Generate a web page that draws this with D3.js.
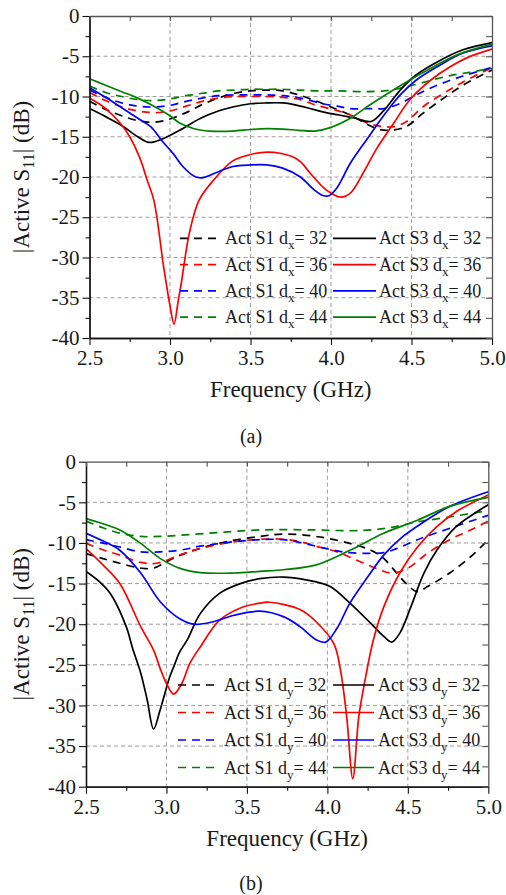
<!DOCTYPE html>
<html>
<head>
<meta charset="utf-8">
<script src="https://cdn.jsdelivr.net/npm/d3@7"></script>
<style>
body { margin: 0; background: #fff; }
svg text { font-family: "Liberation Serif", "Times New Roman", serif; fill: #1a1a1a; }
</style>
</head>
<body>
<svg id="chart" width="506" height="895"></svg>
<script>
// ---- panel (a): dx sweep, [GHz, dB] ----
var a_S1_32 = [[2.5,-10.6],[2.6,-11.6],[2.7,-12.4],[2.8,-13.0],[2.9,-13.2],[3.0,-12.8],[3.1,-12.0],[3.2,-11.0],[3.3,-10.2],[3.4,-9.6],[3.5,-9.3],[3.6,-9.2],[3.7,-9.3],[3.8,-9.8],[3.9,-10.5],[4.0,-11.3],[4.12,-12.3],[4.22,-13.4],[4.3,-14.1],[4.37,-14.2],[4.47,-13.7],[4.57,-12.1],[4.7,-10.2],[4.82,-8.6],[5.0,-6.7]];
var a_S1_36 = [[2.5,-9.5],[2.6,-10.5],[2.7,-11.3],[2.8,-11.8],[2.9,-12.0],[3.0,-11.8],[3.1,-11.2],[3.2,-10.6],[3.3,-10.2],[3.4,-10.0],[3.5,-10.0],[3.6,-10.0],[3.7,-10.1],[3.81,-10.4],[3.91,-11.1],[4.03,-11.7],[4.12,-12.3],[4.24,-13.4],[4.33,-13.75],[4.39,-13.75],[4.47,-13.1],[4.57,-11.3],[4.7,-9.6],[4.82,-8.2],[5.0,-6.4]];
var a_S1_40 = [[2.5,-9.2],[2.6,-10.1],[2.7,-10.8],[2.8,-11.2],[2.9,-11.3],[3.0,-11.1],[3.1,-10.6],[3.2,-10.2],[3.3,-9.9],[3.4,-9.8],[3.5,-9.8],[3.6,-9.8],[3.7,-9.9],[3.81,-10.2],[3.95,-10.9],[4.04,-11.2],[4.12,-11.5],[4.24,-11.5],[4.33,-11.5],[4.43,-10.85],[4.53,-9.8],[4.66,-8.6],[4.82,-7.45],[5.0,-6.4]];
var a_S1_44 = [[2.5,-8.7],[2.6,-9.5],[2.7,-10.0],[2.8,-10.4],[2.9,-10.5],[3.0,-10.3],[3.1,-9.9],[3.2,-9.6],[3.3,-9.3],[3.4,-9.2],[3.5,-9.1],[3.6,-9.1],[3.7,-9.1],[3.8,-9.2],[3.91,-9.3],[4.04,-9.3],[4.2,-9.4],[4.33,-9.3],[4.4,-9.1],[4.49,-8.7],[4.62,-8.0],[4.74,-7.4],[4.86,-7.0],[5.0,-6.5]];
var a_S3_32 = [[2.5,-11.5],[2.6,-12.5],[2.7,-13.6],[2.8,-15.0],[2.87,-15.7],[2.95,-15.3],[3.06,-14.2],[3.19,-12.7],[3.3,-11.8],[3.39,-11.3],[3.5,-10.9],[3.6,-10.8],[3.7,-10.8],[3.77,-11.0],[3.89,-11.6],[3.97,-12.0],[4.05,-12.3],[4.15,-12.7],[4.25,-13.1],[4.33,-11.7],[4.43,-9.2],[4.53,-7.3],[4.66,-5.7],[4.82,-4.2],[5.0,-3.3]];
var a_S3_36 = [[2.5,-10.2],[2.6,-11.5],[2.69,-13.3],[2.75,-15.0],[2.81,-17.5],[2.86,-20.5],[2.9,-22.9],[2.96,-31.1],[3.0,-36.0],[3.025,-38.3],[3.05,-35.5],[3.07,-33.2],[3.12,-27.0],[3.18,-22.9],[3.27,-20.4],[3.39,-18.0],[3.5,-17.2],[3.61,-16.9],[3.75,-17.4],[3.81,-18.1],[3.87,-19.5],[3.97,-21.6],[4.06,-22.5],[4.12,-22.0],[4.2,-19.5],[4.28,-16.6],[4.39,-13.3],[4.49,-10.4],[4.62,-7.95],[4.74,-6.3],[4.86,-5.05],[5.0,-4.1]];
var a_S3_40 = [[2.5,-8.9],[2.6,-10.1],[2.7,-11.4],[2.8,-12.7],[2.88,-13.75],[2.95,-15.5],[3.02,-17.1],[3.08,-18.7],[3.15,-19.9],[3.2,-20.1],[3.27,-19.6],[3.39,-18.7],[3.5,-18.5],[3.6,-18.5],[3.7,-18.9],[3.81,-20.0],[3.89,-21.5],[3.95,-22.3],[3.99,-22.3],[4.035,-21.4],[4.12,-18.3],[4.22,-15.4],[4.33,-12.3],[4.43,-9.8],[4.53,-7.95],[4.66,-6.3],[4.82,-4.6],[5.0,-3.7]];
var a_S3_44 = [[2.5,-7.8],[2.6,-8.6],[2.7,-9.4],[2.8,-10.2],[2.88,-11.0],[3.0,-12.4],[3.06,-13.3],[3.15,-14.0],[3.25,-14.3],[3.39,-14.3],[3.5,-14.1],[3.6,-14.0],[3.7,-14.05],[3.8,-14.2],[3.9,-14.3],[3.99,-13.9],[4.12,-12.7],[4.24,-11.05],[4.37,-9.4],[4.49,-7.95],[4.62,-6.5],[4.78,-4.85],[5.0,-3.5]];

// ---- panel (b): dy sweep ----
var b_S1_32 = [[2.5,-11.3],[2.6,-11.9],[2.71,-12.5],[2.84,-13.1],[2.92,-13.1],[3.04,-11.9],[3.17,-10.9],[3.37,-9.85],[3.58,-9.2],[3.73,-8.9],[3.93,-9.2],[4.14,-10.05],[4.27,-10.9],[4.35,-11.9],[4.43,-13.7],[4.49,-15.0],[4.56,-16.0],[4.62,-15.4],[4.76,-13.7],[4.89,-11.7],[4.97,-10.2],[5.0,-9.6]];
var b_S1_36 = [[2.5,-10.05],[2.6,-10.8],[2.71,-11.5],[2.84,-12.4],[2.94,-12.5],[3.08,-11.5],[3.21,-10.7],[3.42,-9.85],[3.58,-9.55],[3.73,-9.55],[3.83,-9.85],[3.93,-10.4],[4.06,-11.1],[4.18,-12.1],[4.3,-13.1],[4.4,-13.7],[4.5,-13.1],[4.62,-11.3],[4.76,-9.6],[4.89,-8.4],[5.0,-7.3]];
var b_S1_40 = [[2.5,-9.6],[2.6,-10.0],[2.71,-10.5],[2.84,-11.1],[2.96,-11.1],[3.08,-10.9],[3.21,-10.4],[3.42,-9.85],[3.58,-9.6],[3.73,-9.6],[3.93,-10.4],[4.04,-10.9],[4.14,-11.2],[4.35,-11.2],[4.43,-10.7],[4.56,-9.6],[4.76,-8.2],[5.0,-6.6]];
var b_S1_44 = [[2.5,-7.3],[2.6,-8.1],[2.71,-8.8],[2.84,-9.2],[2.96,-9.2],[3.12,-9.0],[3.33,-8.7],[3.58,-8.4],[3.93,-8.4],[4.14,-8.5],[4.27,-8.4],[4.39,-8.1],[4.56,-7.4],[4.76,-6.8],[5.0,-6.0]];
var b_S3_32 = [[2.5,-13.5],[2.58,-14.7],[2.65,-16.2],[2.75,-20.3],[2.79,-23.0],[2.84,-26.0],[2.88,-29.3],[2.92,-32.9],[2.96,-30.6],[3.02,-26.5],[3.05,-25.0],[3.08,-23.5],[3.13,-21.9],[3.21,-18.7],[3.33,-16.2],[3.46,-15.0],[3.58,-14.4],[3.73,-14.2],[3.93,-14.8],[4.02,-15.4],[4.14,-17.4],[4.27,-19.9],[4.35,-21.5],[4.4,-22.2],[4.45,-21.1],[4.52,-17.8],[4.6,-13.7],[4.68,-10.9],[4.8,-8.0],[4.93,-6.15],[5.0,-5.3]];
var b_S3_36 = [[2.5,-10.7],[2.6,-12.6],[2.71,-15.0],[2.84,-20.3],[2.92,-23.2],[2.96,-25.4],[3.0,-27.3],[3.045,-28.6],[3.095,-27.3],[3.146,-24.8],[3.21,-22.8],[3.33,-19.5],[3.46,-18.0],[3.58,-17.4],[3.64,-17.3],[3.83,-18.2],[3.93,-19.7],[4.04,-22.4],[4.08,-25.5],[4.12,-31.4],[4.158,-39.0],[4.195,-31.4],[4.23,-27.3],[4.285,-22.0],[4.35,-17.9],[4.45,-13.7],[4.56,-10.5],[4.68,-8.0],[4.8,-6.15],[5.0,-4.1]];
var b_S3_40 = [[2.5,-8.8],[2.6,-9.7],[2.71,-10.9],[2.84,-13.7],[2.96,-17.2],[3.08,-19.3],[3.17,-20.0],[3.29,-19.7],[3.42,-18.9],[3.58,-18.4],[3.73,-19.1],[3.83,-20.3],[3.93,-21.9],[3.99,-22.2],[4.06,-20.5],[4.14,-17.4],[4.25,-14.2],[4.35,-11.5],[4.47,-9.2],[4.6,-7.4],[4.76,-5.5],[5.0,-3.7]];
var b_S3_44 = [[2.5,-7.0],[2.6,-7.6],[2.71,-8.4],[2.84,-10.05],[2.96,-11.9],[3.08,-13.1],[3.21,-13.65],[3.42,-13.7],[3.58,-13.5],[3.73,-13.3],[3.93,-12.7],[4.14,-10.9],[4.35,-8.8],[4.56,-7.2],[4.76,-5.5],[5.0,-4.4]];

// ---- shared labels / ticks ----
var spacings = [32, 36, 40, 44];
var colors = ["#000000", "#ff0000", "#0000ff", "#008000"];
var xMajor = [2.5, 3.0, 3.5, 4.0, 4.5, 5.0];
var xMinor = [2.75, 3.25, 3.75, 4.25, 4.75];
var yMajor = [0, -5, -10, -15, -20, -25, -30, -35, -40];
var yMinor = [-2.5, -7.5, -12.5, -17.5, -22.5, -27.5, -32.5, -37.5];

var svg = d3.select("#chart");

//layout of the two panels
var panels = [
    { left: 89.5, right: 492, top: 16, bottom: 338, sub: "x", tag: "(a)", tagY: 443,
      s1: [a_S1_32, a_S1_36, a_S1_40, a_S1_44], s3: [a_S3_32, a_S3_36, a_S3_40, a_S3_44],
      legY: 238.3, legStep: 26.3, c1: [180, 220, 225], c2: [333, 376, 379] },
    { left: 86, right: 488.3, top: 461.7, bottom: 786.7, sub: "y", tag: "(b)", tagY: 890,
      s1: [b_S1_32, b_S1_36, b_S1_40, b_S1_44], s3: [b_S3_32, b_S3_36, b_S3_40, b_S3_44],
      legY: 685, legStep: 27.5, c1: [178, 218, 224], c2: [333, 374, 378] }
];

panels.forEach(function (p, i) { drawPanel(p, i); });

function drawPanel(p, idx) {
    var x = d3.scaleLinear().domain([2.5, 5.0]).range([p.left, p.right]);
    var y = d3.scaleLinear().domain([-40, 0]).range([p.bottom, p.top]);
    var g = svg.append("g");

    //grid
    g.selectAll(".gx").data(xMajor.slice(1, -1)).enter().append("line")
        .attr("x1", d => x(d)).attr("x2", d => x(d))
        .attr("y1", p.top).attr("y2", p.bottom)
        .attr("stroke", "#9c9c9c").attr("stroke-width", 1).attr("stroke-dasharray", "4,3");
    g.selectAll(".gy").data(yMajor.slice(1, -1)).enter().append("line")
        .attr("y1", d => y(d)).attr("y2", d => y(d))
        .attr("x1", p.left).attr("x2", p.right)
        .attr("stroke", "#9c9c9c").attr("stroke-width", 1).attr("stroke-dasharray", "4,3");

    //curves
    svg.append("clipPath").attr("id", "clip" + idx).append("rect")
        .attr("x", p.left).attr("y", p.top - 2)
        .attr("width", p.right - p.left).attr("height", p.bottom - p.top + 2);
    var line = d3.line().x(d => x(d[0])).y(d => y(d[1])).curve(d3.curveCatmullRom.alpha(0.5));
    var cg = g.append("g").attr("clip-path", "url(#clip" + idx + ")");
    p.s1.forEach(function (s, k) {
        cg.append("path").attr("d", line(s)).attr("fill", "none")
            .attr("stroke", colors[k]).attr("stroke-width", 1.7).attr("stroke-dasharray", "8,6");
    });
    p.s3.forEach(function (s, k) {
        cg.append("path").attr("d", line(s)).attr("fill", "none")
            .attr("stroke", colors[k]).attr("stroke-width", 1.7);
    });

    //axes
    var fmtX = d3.format(".1f");
    var ax = g.append("g").attr("transform", "translate(0," + p.bottom + ")")
        .call(d3.axisBottom(x).tickValues(xMajor).tickFormat(fmtX).tickSize(7).tickSizeOuter(0).tickPadding(5));
    g.append("g").attr("transform", "translate(0," + p.bottom + ")")
        .call(d3.axisBottom(x).tickValues(xMinor).tickFormat("").tickSize(4).tickSizeOuter(0));
    var ay = g.append("g").attr("transform", "translate(" + p.left + ",0)")
        .call(d3.axisLeft(y).tickValues(yMajor).tickFormat(d => String(d)).tickSize(7).tickSizeOuter(0).tickPadding(3));
    g.append("g").attr("transform", "translate(" + p.left + ",0)")
        .call(d3.axisLeft(y).tickValues(yMinor).tickFormat("").tickSize(4).tickSizeOuter(0));
    //mirror axes, ticks inward
    var allX = xMajor.concat(xMinor), allY = yMajor.concat(yMinor);
    g.append("g").attr("class", "mirror").attr("transform", "translate(0," + p.top + ")")
        .call(d3.axisTop(x).tickValues(allX).tickFormat("").tickSize(-5).tickSizeOuter(0));
    g.append("g").attr("class", "mirror").attr("transform", "translate(" + p.right + ",0)")
        .call(d3.axisRight(y).tickValues(allY).tickFormat("").tickSize(-6).tickSizeOuter(0));

    g.selectAll(".domain").attr("stroke", "#111").attr("stroke-width", 1.3);
    g.selectAll(".tick line").attr("stroke", "#111").attr("stroke-width", 1.1);
    g.selectAll(".mirror .domain").attr("stroke", "#555");
    g.selectAll(".mirror .tick line").attr("stroke", "#555");
    ax.selectAll("text").attr("font-size", 21).attr("fill", "#1a1a1a").attr("font-family", null);
    ay.selectAll("text").attr("font-size", 21).attr("fill", "#1a1a1a").attr("font-family", null);

    //axis titles
    var cx = (p.left + p.right) / 2;
    g.append("text").attr("x", cx).attr("y", p.bottom + 59)
        .attr("text-anchor", "middle").attr("font-size", 23).text("Frequency (GHz)");
    var yt = g.append("text")
        .attr("transform", "translate(29," + ((p.top + p.bottom) / 2) + ") rotate(-90)")
        .attr("text-anchor", "middle").attr("font-size", 23);
    yt.append("tspan").text("|Active S");
    yt.append("tspan").attr("font-size", 16).attr("dy", 5).text("11");
    yt.append("tspan").attr("dy", -5).text("| (dB)");
    g.append("text").attr("x", 251).attr("y", p.tagY)
        .attr("text-anchor", "middle").attr("font-size", 20).text(p.tag);

    //legend
    spacings.forEach(function (v, k) {
        var ly = p.legY + k * p.legStep;
        [[p.c1, "Act S1 d", "8,6"], [p.c2, "Act S3 d", null]].forEach(function (c) {
            g.append("line").attr("x1", c[0][0]).attr("x2", c[0][1])
                .attr("y1", ly).attr("y2", ly)
                .attr("stroke", colors[k]).attr("stroke-width", 1.7)
                .attr("stroke-dasharray", c[2]);
            var t = g.append("text").attr("x", c[0][2]).attr("y", ly + 6).attr("font-size", 18);
            t.append("tspan").text(c[1]);
            t.append("tspan").attr("font-size", 13).attr("dy", 5).text(p.sub);
            t.append("tspan").attr("dy", -5).text("= " + v);
        });
    });
}
</script>
</body>
</html>
